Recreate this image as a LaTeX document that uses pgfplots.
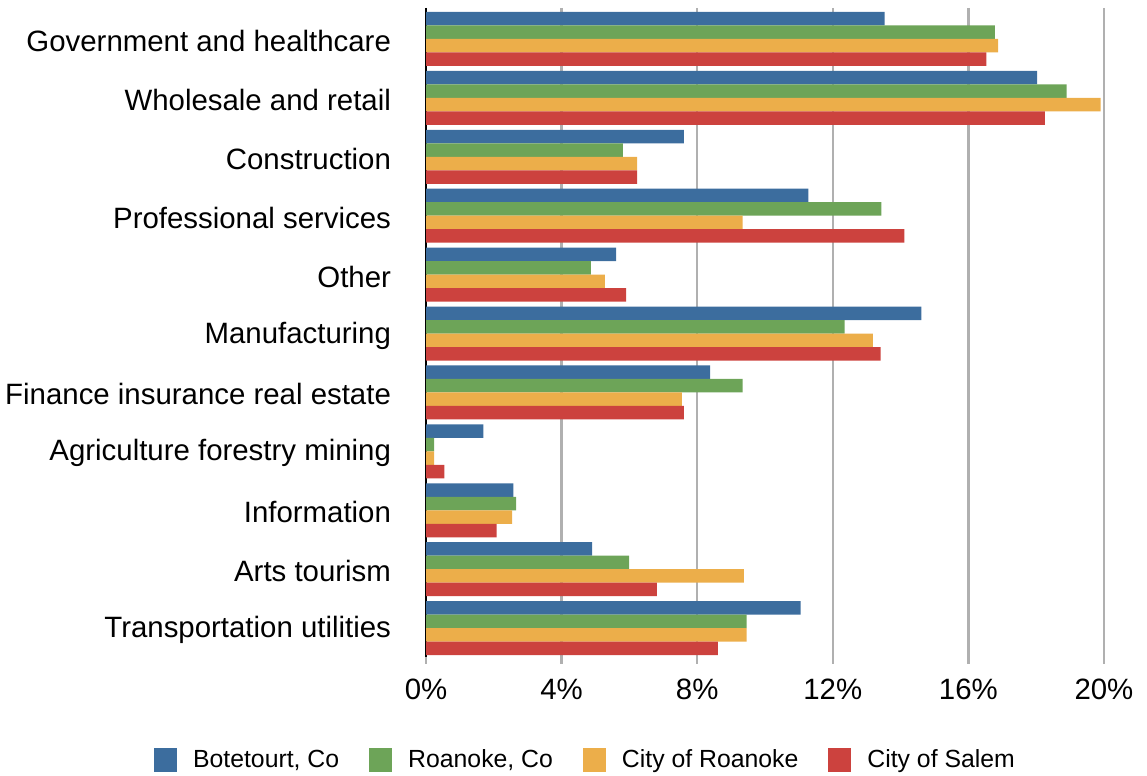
\documentclass[border=0pt]{standalone}
\usepackage{fontspec}
\setmainfont{Liberation Sans}
\usepackage{pgfplots}
\pgfplotsset{compat=1.18}
\definecolor{cBlue}{HTML}{3C6D9E}
\definecolor{cGreen}{HTML}{6DA458}
\definecolor{cOrange}{HTML}{ECAE4A}
\definecolor{cRed}{HTML}{CC423E}
\definecolor{cGrid}{HTML}{B0B0B0}
\begin{document}
\begin{tikzpicture}
\begin{axis}[
  scale only axis,
  width=340pt, height=324.5pt,
  xbar=0pt, bar width=6.75pt,
  xmin=0, xmax=20.06,
  ymin=-0.526, ymax=10.49,
  y dir=reverse,
  ytick={0,...,10},
  yticklabels={Government and healthcare,Wholesale and retail,Construction,Professional services,Other,Manufacturing,Finance insurance real estate,Agriculture forestry mining,Information,Arts tourism,Transportation utilities},
  xtick={0,4,8,12,16,20},
  xticklabel={\pgfmathprintnumber{\tick}\%},
  /pgf/number format/assume math mode=true,
  tick label style={font=\fontsize{14.7}{17}\selectfont, black},
  yticklabel style={xshift=-10.5pt, yshift=-1pt},
  xticklabel style={yshift=-4pt},
  separate axis lines,
  axis x line*=bottom,
  axis y line*=left,
  x axis line style={draw=none},
  y axis line style={black, line width=1.1pt},
  ytick style={draw=none},
  xtick style={cGrid, line width=1.2pt},
  tick align=outside,
  major tick length=3.5pt,
  xmajorgrids,
  grid style={cGrid, line width=1.2pt},
  legend columns=4,
  legend style={draw=none, at={(rel axis cs:0.236,-0.159)}, anchor=center,
    font=\fontsize{12.4}{14}\selectfont,
    /tikz/every odd column/.append style={column sep=6pt},
    /tikz/every even column/.append style={column sep=13pt}},
  legend image code/.code={\fill[#1,draw=none] (0pt,-6pt) rectangle (11.5pt,6pt);},
]
\addplot[fill=cBlue, draw=none, bar shift=10.125pt] coordinates {
(13.53,0) (18.03,1) (7.61,2) (11.28,3) (5.61,4) (14.61,5) (8.38,6) (1.69,7) (2.58,8) (4.90,9) (11.05,10)};
\addplot[fill=cGreen, draw=none, bar shift=3.375pt] coordinates {
(16.78,0) (18.90,1) (5.81,2) (13.43,3) (4.86,4) (12.35,5) (9.34,6) (0.24,7) (2.66,8) (5.99,9) (9.46,10)};
\addplot[fill=cOrange, draw=none, bar shift=-3.375pt] coordinates {
(16.88,0) (19.90,1) (6.23,2) (9.34,3) (5.28,4) (13.18,5) (7.55,6) (0.24,7) (2.54,8) (9.38,9) (9.46,10)};
\addplot[fill=cRed, draw=none, bar shift=-10.125pt] coordinates {
(16.53,0) (18.26,1) (6.23,2) (14.11,3) (5.90,4) (13.41,5) (7.61,6) (0.54,7) (2.08,8) (6.81,9) (8.61,10)};
\legend{{Botetourt, Co},{Roanoke, Co},{City of Roanoke},{City of Salem}}
\coordinate (bbl) at (rel axis cs:-0.6265,-0.1834);
\coordinate (btr) at (rel axis cs:1.0603,1.0123);
\end{axis}
\pgfresetboundingbox
\path (bbl) rectangle (btr);
\end{tikzpicture}
\end{document}
